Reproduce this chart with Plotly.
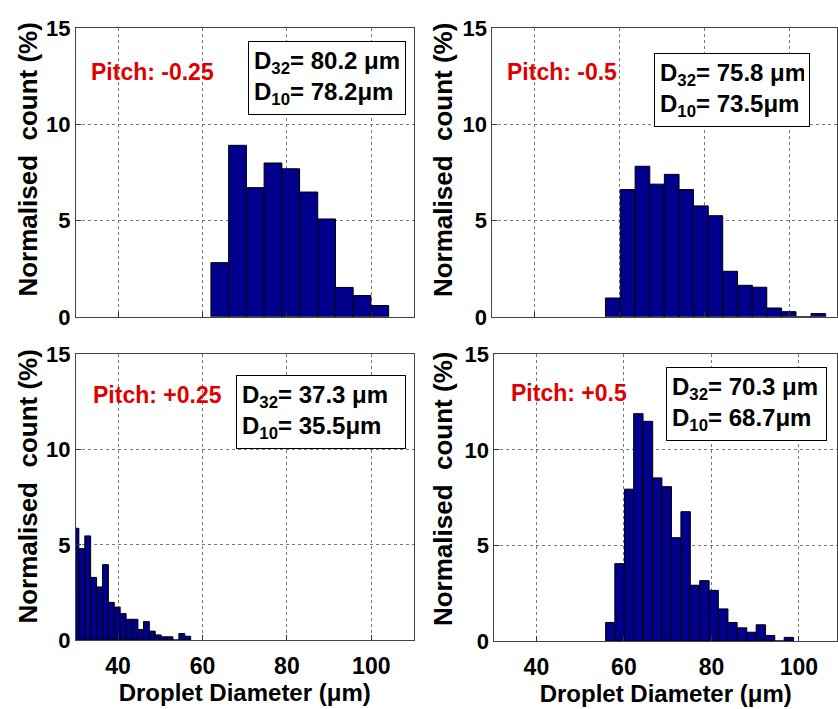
import plotly.graph_objects as go

W, H = 838, 709

# ---------------- data ----------------
# Panel 1: Pitch -0.25
p1_centers = [64.1, 68.3, 72.5, 76.7, 80.9, 85.2, 89.4, 93.6, 97.8, 102.0]
p1_counts = [2.82, 8.92, 6.72, 8.0, 7.7, 6.49, 5.09, 1.53, 1.11, 0.59]
p1_binwidth = 4.21

# Panel 2: Pitch -0.5
p2_centers = [58.4, 61.9, 65.4, 68.8, 72.3, 75.7, 79.2, 82.6, 86.1, 89.6,
              93.0, 96.5, 99.9, 103.4, 106.9]
p2_counts = [0.98, 6.62, 7.83, 6.9, 7.41, 6.62, 5.77, 5.26, 2.37, 1.64,
             1.54, 0.46, 0.27, 0.0, 0.17]
p2_binwidth = 3.46

# Panel 3: Pitch +0.25
p3_centers = [30.0, 31.4, 32.8, 34.2, 35.6, 37.0, 38.4, 39.8, 41.2, 42.6,
              44.0, 45.3, 46.7, 48.1, 49.5, 50.9, 52.3, 53.7, 55.1, 56.5]
p3_counts = [5.87, 4.8, 5.47, 3.29, 2.79, 3.96, 1.98, 1.73, 1.39, 1.09,
             1.09, 0.55, 0.97, 0.47, 0.27, 0.17, 0.17, 0.0, 0.34, 0.2]
p3_binwidth = 1.39

# Panel 4: Pitch +0.5
p4_centers = [56.9, 59.0, 61.2, 63.3, 65.5, 67.6, 69.8, 71.9, 74.1, 76.2,
              78.4, 80.5, 82.7, 84.8, 87.0, 89.1, 91.3, 93.4, 95.6, 97.7]
p4_counts = [0.97, 4.05, 7.95, 11.9, 11.5, 8.54, 8.08, 5.41, 6.77, 2.92,
             3.16, 2.65, 1.68, 0.97, 0.69, 0.46, 0.85, 0.29, 0.0, 0.19]
p4_binwidth = 2.15

pitch_labels = ["Pitch: -0.25", "Pitch: -0.5", "Pitch: +0.25", "Pitch: +0.5"]
d32_values = ["80.2", "75.8", "37.3", "70.3"]
d10_values = ["78.2", "73.5", "35.5", "68.7"]

x_ticks = [40, 60, 80, 100]
y_ticks = [0, 5, 10, 15]
y_title = "Normalised  count (%)"
x_title = "Droplet Diameter (\u03bcm)"

# ---------------- layout geometry (pixels) ----------------
FONT = "Liberation Sans, Arial, sans-serif"
BAR_COLOR = "#00008c"

panels = [
    dict(c=p1_centers, v=p1_counts, w=p1_binwidth, px=(76, 414), py=(17, 316), xr=[30, 110], bottom=False),
    dict(c=p2_centers, v=p2_counts, w=p2_binwidth, px=(493, 838), py=(17, 316), xr=[30, 111.3], bottom=False),
    dict(c=p3_centers, v=p3_counts, w=p3_binwidth, px=(76, 414), py=(355, 651), xr=[30, 110], bottom=True),
    dict(c=p4_centers, v=p4_counts, w=p4_binwidth, px=(495, 838), py=(355, 652), xr=[30.4, 108.7], bottom=True),
]
pitch_pos = [(89, 62), (506, 62), (91, 397), (510, 395)]
box_pos = [(248, 30, 158), (655, 42, 156), (236, 376, 170), (667, 368, 161)]
ytitle_pos = [(28, 153), (443, 153), (28, 492), (443, 494)]

fig = go.Figure()
layout = dict(
    width=W, height=H,
    margin=dict(l=0, r=0, t=0, b=0),
    paper_bgcolor="white", plot_bgcolor="white",
    showlegend=False,
    font=dict(family=FONT, size=22, color="black", weight="bold"),
    annotations=[],
)

for i, p in enumerate(panels):
    n = "" if i == 0 else str(i + 1)
    fig.add_trace(go.Bar(
        x=p["c"], y=p["v"], width=p["w"],
        marker=dict(color=BAR_COLOR, line=dict(color="black", width=1)),
        xaxis="x" + n, yaxis="y" + n,
    ))
    xd = [p["px"][0] / W, p["px"][1] / W]
    yd = [1 - p["py"][1] / H, 1 - p["py"][0] / H]
    xa = dict(
        domain=xd, range=p["xr"], anchor="y" + n,
        tickvals=x_ticks, showticklabels=p["bottom"],
        ticks="inside", ticklen=5, tickcolor="#333",
        showgrid=True, gridcolor="#777", griddash="dot", gridwidth=1,
        showline=True, linecolor="#444", linewidth=1, mirror=True,
        zeroline=False,
        tickfont=dict(size=23, family=FONT, weight="bold"),
    )
    if p["bottom"]:
        xa["ticklabelstandoff"] = 5
        xa["title"] = dict(text=x_title, font=dict(size=24, family=FONT, weight="bold"), standoff=2)
    ya = dict(
        domain=yd, range=[0, 15], anchor="x" + n,
        tickvals=y_ticks,
        ticks="inside", ticklen=5, tickcolor="#333",
        showgrid=True, gridcolor="#777", griddash="dot", gridwidth=1,
        showline=True, linecolor="#444", linewidth=1, mirror=True,
        zeroline=False,
        tickfont=dict(size=22, family=FONT, weight="bold"),
    )
    layout["xaxis" + n] = xa
    layout["yaxis" + n] = ya

    # y-axis title
    yx, yy = ytitle_pos[i]
    layout["annotations"].append(dict(
        xref="paper", yref="paper", x=yx / W, y=1 - yy / H,
        xanchor="center", yanchor="middle", showarrow=False,
        text=y_title, textangle=-90,
        font=dict(size=26, color="black", family=FONT, weight="bold"),
    ))

    # red pitch label
    tx, ty = pitch_pos[i]
    layout["annotations"].append(dict(
        xref="paper", yref="paper", x=tx / W, y=1 - ty / H,
        xanchor="left", yanchor="middle", showarrow=False,
        text=pitch_labels[i],
        font=dict(size=23, color="#e00000", family=FONT, weight="bold"),
    ))
    # boxed D32 / D10 text
    bx, by, bw = box_pos[i]
    layout["annotations"].append(dict(
        xref="paper", yref="paper", x=bx / W, y=1 - by / H,
        xanchor="left", yanchor="top", showarrow=False,
        text=("D<sub>32</sub>= " + d32_values[i] + " \u03bcm<br>"
              "D<sub>10</sub>= " + d10_values[i] + "\u03bcm"),
        align="left", width=bw - 12, borderpad=5,
        bordercolor="black", borderwidth=1, bgcolor="white",
        font=dict(size=24, color="black", family=FONT, weight="bold"),
    ))

fig.update_layout(**layout)
fig.write_html("out.html")
